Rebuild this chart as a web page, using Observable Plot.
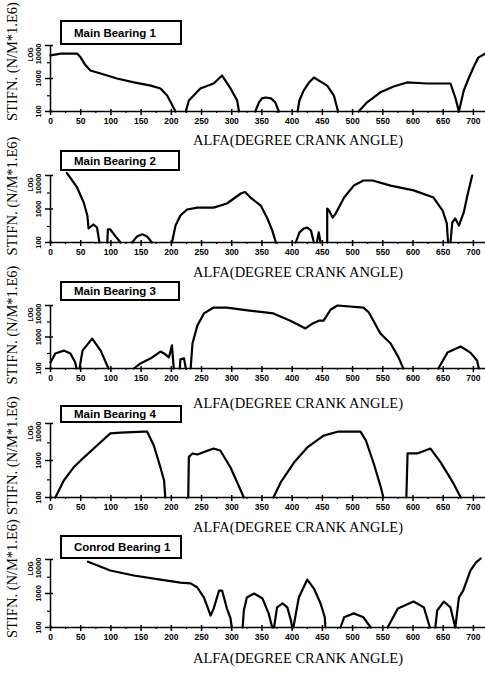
<!DOCTYPE html>
<html><head><meta charset="utf-8">
<script src="https://cdn.jsdelivr.net/npm/d3@7"></script>
<script src="https://cdn.jsdelivr.net/npm/@observablehq/plot@0.6"></script>
<style>
body{margin:0;background:#fff;}
#chart{position:relative;width:485px;height:673px;overflow:hidden;background:#fff;}
.panel{position:absolute;left:0;}
.box{position:absolute;left:60px;border:2px solid #000;background:#fff;font:bold 11.5px "Liberation Sans",Arial,sans-serif;display:flex;align-items:center;padding-left:12px;box-sizing:border-box;color:#000;}
</style></head><body><div id="chart"></div>
<script>
// ---- data (null = below 100, curve on the axis) ----
const xTickValues = [0,50,100,150,200,250,300,350,400,450,500,550,600,650,700];
const xMinorTicks = [25,75,125,175,225,275,325,375,425,475,525,575,625,675,720];
const yTickValues = [100,1000,10000];
const yMinorTicks = [300,3000];
const yTitle = "STIFN. (N/M*1.E6)";
const xTitle = "ALFA(DEGREE CRANK ANGLE)";
const panelTitles = ["Main Bearing 1","Main Bearing 2","Main Bearing 3","Main Bearing 4","Conrod Bearing 1"];

const mb1Angle = [0,17,44,50,58,66,83,110,138,166,182,193,199,207,null,
  224,229,248,270,284,298,309,312,null,
  339,345,350,356,365,372,378,null,
  409,412,419,428,436,458,469,476,null,
  510,524,546,568,590,624,662,670,676,684,692,700,708,720];
const mb1Stiff = [5000,5700,5700,4300,2500,1750,1420,1000,760,610,500,305,190,100,null,
  100,215,500,705,1230,500,215,100,null,
  100,190,250,265,250,190,100,null,
  100,215,430,760,1070,610,305,100,null,
  100,190,380,570,760,705,705,265,100,430,1000,2160,4300,5700];

const mb2Angle = [27,44,55,61,63,71,77,81,null,
  94,95,99,108,116,null,
  135,143,152,160,168,null,
  201,207,215,226,243,270,292,315,322,331,348,359,367,373,null,
  406,412,419,425,431,436,null,
  441,444,447,null,
  458,458,461,467,472,486,502,518,533,563,601,634,649,656,658,null,
  662,665,670,676,684,690,698];
const mb2Stiff = [12000,4400,1560,640,262,345,280,100,null,
  100,245,245,150,100,null,
  100,150,175,150,100,null,
  100,320,640,965,1100,1100,1460,2900,3200,2200,1270,520,230,100,null,
  100,200,260,280,230,100,null,
  100,200,100,null,
  100,1030,900,555,730,2200,5000,7100,7100,5000,3600,2200,900,370,100,null,
  100,395,520,320,790,2530,10000];

const mb3Angle = [0,8,22,33,41,43,null,
  48,53,69,83,96,null,
  138,149,166,182,188,196,201,204,null,
  214,215,221,224,null,
  232,235,243,254,270,292,326,369,397,422,434,444,452,464,475,518,527,546,563,576,584,null,
  642,657,679,695,706,709];
const mb3Stiff = [155,300,370,300,155,100,null,
  100,370,890,370,100,null,
  100,145,210,345,300,225,540,100,null,
  100,195,210,100,null,
  100,620,2300,5600,8600,8600,7000,5600,3300,1870,2700,3300,3300,7500,10000,8600,6000,1290,620,225,100,null,
  100,320,500,320,180,100];

const mb4Angle = [8,22,38,55,77,99,116,154,160,171,182,188,190,null,
  228,229,235,243,270,281,298,315,320,null,
  369,381,403,425,452,475,513,522,535,546,551,null,
  589,591,607,629,646,667,679];
const mb4Stiff = [100,288,645,1200,2550,5400,5700,6000,6000,2550,645,288,100,null,
  100,1250,1550,1450,2100,1870,645,155,100,null,
  100,255,880,2250,4700,6000,6000,3500,830,210,100,null,
  100,1550,1550,2100,880,240,100];

const cb1Angle = [62,99,138,182,215,232,243,254,259,265,270,279,284,292,298,300,null,
  318,320,325,337,351,361,367,null,
  370,375,384,392,398,400,null,
  402,411,425,436,447,454,455,null,
  480,486,502,518,530,null,
  558,575,601,618,628,null,
  637,640,651,662,670,676,683,695,704,712];
const cb1Stiff = [8600,4740,3380,2570,2100,1980,1500,760,440,225,360,1220,1220,360,185,100,null,
  100,316,760,1000,710,260,100,null,
  100,390,510,390,160,100,null,
  100,760,2570,1400,510,200,100,null,
  100,200,260,200,100,null,
  100,360,580,390,100,null,
  100,316,580,390,100,760,1220,4740,8100,10700];

const series = [[mb1Angle,mb1Stiff],[mb2Angle,mb2Stiff],[mb3Angle,mb3Stiff],[mb4Angle,mb4Stiff],[cb1Angle,cb1Stiff]];

// ---- layout ----
const layout = [
  {top:45,  bottom:111, xlab:29, ylab:-17, boxTop:20,  boxH:25, boxW:122},
  {top:175, bottom:242, xlab:30, ylab:-13, boxTop:150, boxH:21, boxW:120},
  {top:305, bottom:368, xlab:35, ylab:-12, boxTop:281, boxH:20, boxW:120},
  {top:423, bottom:497, xlab:30, ylab:-5,  boxTop:405, boxH:18, boxW:122},
  {top:559, bottom:627, xlab:31, ylab:-15, boxTop:535, boxH:24, boxW:122}
];

const chart = document.getElementById("chart");
const tickFont = {fontFamily:"'Liberation Sans', Arial, sans-serif", fontWeight:"bold"};
const serif = "'Liberation Serif', 'Times New Roman', serif";
const noText = {tickFormat: () => "", label: null};

layout.forEach((L, k) => {
  const [ang, stf] = series[k];
  const rows = ang.map((a, i) => ({a, s: stf[i]}));
  const mt = 10, mb = 45;
  const h = L.bottom - L.top;
  const svg = Plot.plot({
    width: 485, height: h + mt + mb,
    marginTop: mt, marginBottom: mb, marginLeft: 50, marginRight: 0,
    x: {domain: [0, 720], axis: null},
    y: {type: "log", domain: [100, 10000], axis: null},
    style: {overflow: "visible", background: "transparent"},
    marks: [
      Plot.ruleY([100], {stroke: "#000", strokeWidth: 1.5}),
      Plot.ruleX([0], {stroke: "#000", strokeWidth: 1.5}),
      Plot.axisX(xTickValues, {anchor: "bottom", tickSize: 4, strokeWidth: 1.5, ...noText}),
      Plot.axisX(xTickValues, {anchor: "bottom", tickSize: -2, strokeWidth: 1.5, ...noText}),
      Plot.axisX(xMinorTicks, {anchor: "bottom", tickSize: 2, strokeWidth: 1.2, ...noText}),
      Plot.axisY(yTickValues, {anchor: "left", tickSize: 5, strokeWidth: 1.5, ...noText}),
      Plot.axisY(yTickValues, {anchor: "left", tickSize: -3, strokeWidth: 1.5, ...noText}),
      Plot.axisY(yMinorTicks, {anchor: "left", tickSize: 3, strokeWidth: 1.2, ...noText}),
      Plot.text(xTickValues, {x: d => d, frameAnchor: "bottom", lineAnchor: "middle", dy: 10, text: d => String(d), fontSize: 8.5, ...tickFont}),
      Plot.text(yTickValues.filter(v => v < 10000), {x: 0, y: d => d, text: d => String(d), rotate: -90, dx: -12, textAnchor: "middle", lineAnchor: "middle", fontSize: 7.5, ...tickFont}),
      Plot.text(yTickValues.filter(v => v >= 10000), {x: 0, y: d => d, text: d => String(d), rotate: -90, dx: -12, dy: -2, textAnchor: "end", lineAnchor: "middle", fontSize: 7.5, ...tickFont}),
      Plot.text(["LOG"], {frameAnchor: "top-left", rotate: -90, dx: -20, dy: 9, textAnchor: "middle", lineAnchor: "middle", fontSize: 6.5, ...tickFont}),
      Plot.text([yTitle], {frameAnchor: "left", rotate: -90, dx: -38, dy: L.ylab, textAnchor: "middle", lineAnchor: "middle", fontSize: 14.5, fontFamily: serif}),
      Plot.text([xTitle], {frameAnchor: "bottom", dx: 30, dy: L.xlab, textAnchor: "middle", lineAnchor: "middle", fontSize: 14.5, fontFamily: serif}),
      Plot.line(rows, {x: "a", y: "s", stroke: "#000", strokeWidth: 2.2, strokeLinejoin: "round", curve: "linear"})
    ]
  });
  svg.classList.add("panel");
  svg.style.top = (L.top - mt) + "px";
  chart.appendChild(svg);
  const box = document.createElement("div");
  box.className = "box";
  box.style.top = L.boxTop + "px";
  box.style.height = L.boxH + "px";
  box.style.width = L.boxW + "px";
  box.textContent = panelTitles[k];
  chart.appendChild(box);
});
</script></body></html>
